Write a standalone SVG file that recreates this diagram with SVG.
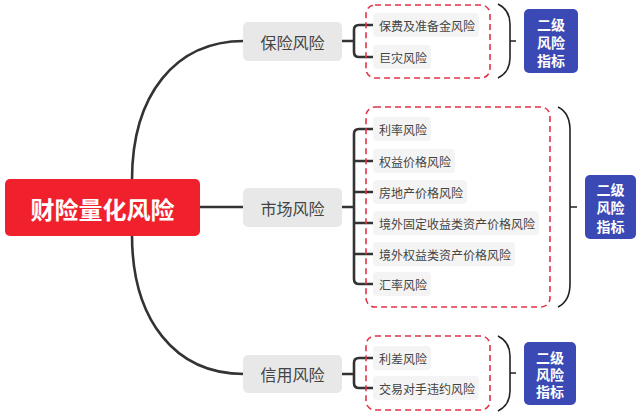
<svg xmlns="http://www.w3.org/2000/svg" width="640" height="415" viewBox="0 0 640 415">
<style>
text{font-family:"Noto Sans CJK SC","Noto Sans",sans-serif;}
.root{fill:#f0212d;}
.roott{fill:#fff;font-size:24px;font-weight:bold;}
.l1{fill:#e8e8e8;}
.l1t{fill:#444;font-size:16px;}
.l2{fill:#f4f4f4;}
.l2t{fill:#444;font-size:12px;}
.dash{fill:none;stroke:#e03448;stroke-width:1.6;stroke-dasharray:6 4;}
.brace{fill:none;stroke:#222;stroke-width:1.6;}
.blue{fill:#3a49b3;}
.bt{fill:#fff;font-size:14px;font-weight:bold;}
.conn{fill:none;stroke:#333;stroke-width:2.6;}
</style>
<rect width="640" height="415" fill="#fff"/>
<g id="connectors">
<path class="conn" d="M132,180 C132,95 175,41 244,41"/>
<path class="conn" d="M200,207 L244,207"/>
<path class="conn" d="M132,235 C132,320 175,374 244,374"/>
<path class="conn" d="M342,41 L354,41 M373,25 L359,25 Q354,25 354,30 L354,52 Q354,57 359,57 L373,57"/>
<path class="conn" d="M342,207 L354,207 M373,129 L359,129 Q354,129 354,134 L354,279 Q354,284 359,284 L373,284 M354,161 L373,161 M354,192 L373,192 M354,223 L373,223 M354,254 L373,254"/>
<path class="conn" d="M342,374 L354,374 M373,358 L359,358 Q354,358 354,363 L354,383 Q354,388 359,388 L373,388"/>
</g>
<g id="root">
<rect class="root" x="5" y="179" width="195" height="57" rx="5"/>
<text class="roott" x="102.5" y="208" text-anchor="middle" dominant-baseline="central">财险量化风险</text>
</g>
<g id="insurance">
<rect class="l1" x="243" y="22" width="99" height="39" rx="5"/>
<text class="l1t" x="292.5" y="41.5" text-anchor="middle" dominant-baseline="central">保险风险</text>
</g>
<g id="market">
<rect class="l1" x="243" y="188" width="99" height="39" rx="5"/>
<text class="l1t" x="292.5" y="207.5" text-anchor="middle" dominant-baseline="central">市场风险</text>
</g>
<g id="credit">
<rect class="l1" x="243" y="355" width="99" height="38" rx="5"/>
<text class="l1t" x="292.5" y="374" text-anchor="middle" dominant-baseline="central">信用风险</text>
</g>
<g id="ins-1"><rect class="l2" x="373" y="13" width="106" height="24" rx="4"/><text class="l2t" x="379" y="25" dominant-baseline="central">保费及准备金风险</text></g>
<g id="ins-2"><rect class="l2" x="373" y="45" width="58" height="24" rx="4"/><text class="l2t" x="379" y="57" dominant-baseline="central">巨灾风险</text></g>
<g id="mkt-1"><rect class="l2" x="373" y="117" width="58" height="24" rx="4"/><text class="l2t" x="379" y="129" dominant-baseline="central">利率风险</text></g>
<g id="mkt-2"><rect class="l2" x="373" y="149" width="82" height="24" rx="4"/><text class="l2t" x="379" y="161" dominant-baseline="central">权益价格风险</text></g>
<g id="mkt-3"><rect class="l2" x="373" y="180" width="94" height="24" rx="4"/><text class="l2t" x="379" y="192" dominant-baseline="central">房地产价格风险</text></g>
<g id="mkt-4"><rect class="l2" x="373" y="211" width="166" height="24" rx="4"/><text class="l2t" x="379" y="223" dominant-baseline="central">境外固定收益类资产价格风险</text></g>
<g id="mkt-5"><rect class="l2" x="373" y="242" width="142" height="24" rx="4"/><text class="l2t" x="379" y="254" dominant-baseline="central">境外权益类资产价格风险</text></g>
<g id="mkt-6"><rect class="l2" x="373" y="272" width="58" height="24" rx="4"/><text class="l2t" x="379" y="284" dominant-baseline="central">汇率风险</text></g>
<g id="cr-1"><rect class="l2" x="373" y="346" width="58" height="24" rx="4"/><text class="l2t" x="379" y="358" dominant-baseline="central">利差风险</text></g>
<g id="cr-2"><rect class="l2" x="373" y="376" width="106" height="24" rx="4"/><text class="l2t" x="379" y="388" dominant-baseline="central">交易对手违约风险</text></g>
<g id="group-ins">
<rect class="dash" x="366" y="5" width="124" height="73" rx="9"/>
<path class="brace" d="M498,4 Q510,10 510,24 L510,58 Q510,72 498,78 M510,41 L516,41"/>
<rect class="blue" x="524" y="9" width="54" height="64" rx="5"/>
<text class="bt" x="551" y="24" text-anchor="middle" dominant-baseline="central">二级</text>
<text class="bt" x="551" y="42" text-anchor="middle" dominant-baseline="central">风险</text>
<text class="bt" x="551" y="60" text-anchor="middle" dominant-baseline="central">指标</text>
</g>
<g id="group-mkt">
<rect class="dash" x="366" y="107" width="184" height="200" rx="9"/>
<path class="brace" d="M558,107 Q570,113 570,130 L570,284 Q570,301 558,307 M570,207 L577,207"/>
<rect class="blue" x="585" y="175" width="51" height="64" rx="5"/>
<text class="bt" x="610.5" y="189" text-anchor="middle" dominant-baseline="central">二级</text>
<text class="bt" x="610.5" y="207" text-anchor="middle" dominant-baseline="central">风险</text>
<text class="bt" x="610.5" y="226" text-anchor="middle" dominant-baseline="central">指标</text>
</g>
<g id="group-cr">
<rect class="dash" x="366" y="336" width="124" height="74" rx="9"/>
<path class="brace" d="M498,336 Q510,342 510,356 L510,391 Q510,405 498,411 M510,373 L516,373"/>
<rect class="blue" x="524" y="342" width="52" height="63" rx="5"/>
<text class="bt" x="550" y="357" text-anchor="middle" dominant-baseline="central">二级</text>
<text class="bt" x="550" y="374" text-anchor="middle" dominant-baseline="central">风险</text>
<text class="bt" x="550" y="391" text-anchor="middle" dominant-baseline="central">指标</text>
</g>
</svg>
